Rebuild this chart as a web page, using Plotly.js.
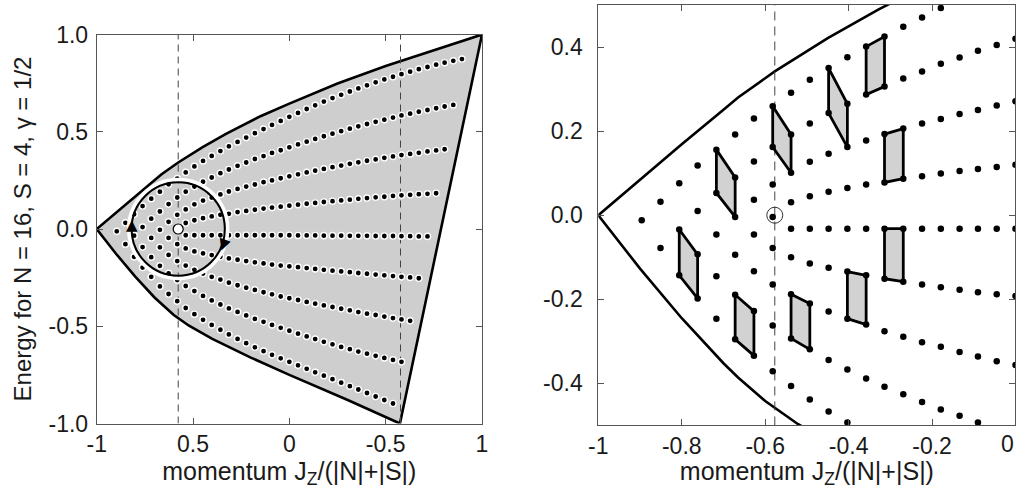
<!DOCTYPE html>
<html><head><meta charset="utf-8">
<script src="https://cdn.plot.ly/plotly-3.0.1.min.js"></script>
<style>html,body{margin:0;padding:0;background:#fff}#chart{width:1016px;height:489px}</style>
</head><body><div id="chart"></div>
<script>
// J_z/(|N|+|S|) of each column of levels (J_z = -20 ... 20)
const momentum = [-0.896,-0.851,-0.806,-0.762,-0.717,-0.672,-0.627,-0.582,-0.538,-0.493,-0.448,-0.403,-0.358,-0.314,-0.269,-0.224,-0.179,-0.134,-0.090,-0.045,0,0.045,0.090,0.134,0.179,0.224,0.269,0.314,0.358,0.403,0.448,0.493,0.538,0.582,0.627,0.672,0.717,0.762,0.806,0.851,0.896];
// energy levels of each column, top to bottom
const energyLevels = [
 [-0.012],
 [0.032,-0.078],
 [0.076,-0.034,-0.143],
 [0.118,0.010,-0.093,-0.198],
 [0.156,0.053,-0.046,-0.145,-0.246],
 [0.192,0.090,-0.004,-0.094,-0.189,-0.295],
 [0.230,0.128,0.037,-0.046,-0.133,-0.228,-0.334],
 [0.259,0.162,0.073,-0.004,-0.078,-0.165,-0.262,-0.371],
 [0.291,0.192,0.101,0.031,-0.032,-0.100,-0.188,-0.293,-0.406],
 [0.322,0.218,0.127,0.045,-0.032,-0.115,-0.210,-0.319,-0.438],
 [0.350,0.243,0.146,0.056,-0.032,-0.125,-0.229,-0.344,-0.467],
 [0.376,0.265,0.162,0.065,-0.032,-0.134,-0.246,-0.367,-0.493],
 [0.401,0.287,0.178,0.073,-0.032,-0.143,-0.260,-0.388,-0.518],
 [0.425,0.306,0.193,0.078,-0.032,-0.151,-0.276,-0.408,-0.542],
 [0.448,0.325,0.206,0.087,-0.032,-0.158,-0.289,-0.426,-0.565],
 [0.470,0.342,0.218,0.093,-0.032,-0.165,-0.302,-0.444,-0.587],
 [0.493,0.360,0.229,0.099,-0.032,-0.171,-0.313,-0.462,-0.608],
 [0.514,0.375,0.241,0.105,-0.032,-0.177,-0.325,-0.477,-0.628],
 [0.535,0.391,0.250,0.110,-0.032,-0.183,-0.336,-0.493,-0.647],
 [0.556,0.405,0.261,0.115,-0.032,-0.188,-0.347,-0.508,-0.665],
 [0.577,0.420,0.271,0.120,-0.032,-0.192,-0.356,-0.523,-0.683],
 [0.597,0.435,0.281,0.125,-0.033,-0.196,-0.365,-0.538,-0.701],
 [0.617,0.449,0.291,0.130,-0.033,-0.201,-0.375,-0.552,-0.719],
 [0.636,0.463,0.300,0.134,-0.033,-0.205,-0.384,-0.566,-0.737],
 [0.655,0.477,0.309,0.139,-0.034,-0.210,-0.393,-0.580,-0.754],
 [0.673,0.490,0.318,0.143,-0.034,-0.214,-0.401,-0.593,-0.772],
 [0.690,0.503,0.326,0.147,-0.034,-0.218,-0.410,-0.606,-0.790],
 [0.707,0.516,0.335,0.151,-0.035,-0.222,-0.418,-0.618,-0.808],
 [0.723,0.528,0.343,0.155,-0.035,-0.226,-0.427,-0.630,-0.825],
 [0.739,0.540,0.351,0.159,-0.035,-0.230,-0.435,-0.641,-0.843],
 [0.754,0.551,0.358,0.163,-0.036,-0.234,-0.442,-0.652,-0.861],
 [0.769,0.562,0.366,0.166,-0.036,-0.238,-0.450,-0.663,-0.879],
 [0.783,0.573,0.373,0.170,-0.036,-0.242,-0.458,-0.673,-0.897],
 [0.796,0.584,0.380,0.173,-0.037,-0.246,-0.465,-0.683],
 [0.809,0.593,0.386,0.176,-0.037,-0.249,-0.472],
 [0.822,0.603,0.392,0.179,-0.038,-0.253],
 [0.833,0.612,0.399,0.181,-0.038],
 [0.845,0.621,0.404,0.184],
 [0.855,0.630,0.410],
 [0.865,0.638],
 [0.874]
];
const columnJz = [-20,-19,-18,-17,-16,-15,-14,-13,-12,-11,-10,-9,-8,-7,-6,-5,-4,-3,-2,-1,0,1,2,3,4,5,6,7,8,9,10,11,12,13,14,15,16,17,18,19,20];
// classical boundary of the energy-momentum map
const upperX = [-1,-0.9,-0.8,-0.7,-0.665,-0.577,-0.45,-0.329,-0.15,0,0.25,0.5,0.75,1];
const upperY = [0,0.085,0.169,0.251,0.280,0.342,0.421,0.489,0.580,0.645,0.748,0.838,0.921,1.0];
const lowerX = [-1,-0.9,-0.8,-0.7,-0.665,-0.6,-0.521,-0.4,-0.2,0,0.3,0.574];
const lowerY = [0,-0.127,-0.245,-0.352,-0.386,-0.442,-0.497,-0.565,-0.661,-0.750,-0.878,-1.0];
// elementary cells carried around the singular value (pairs of columns, level indices)
const cellJz = [[-18,-17],[-16,-15],[-15,-14],[-13,-12],[-12,-11],[-10,-9],[-9,-8],[-8,-7],[-7,-6],[-7,-6]];
const cellLevels = [[1,2,2,3],[0,1,1,2],[4,5,5,6],[0,1,1,2],[6,7,6,7],[0,1,1,2],[5,6,5,6],[0,1,0,1],[2,3,2,3],[4,5,4,5]];
const dashedJz = [-0.577, 0.577];
const singular = {x: -0.577, y: 0.0};
const rightTickVals = [-1,-0.8,-0.6,-0.4,-0.2,0];
const rightTickText = ['-1','-0.8','-0.6','-0.4','-0.2','0'];

const FONT = 'Liberation Sans, Arial, Helvetica, sans-serif';
const traces = [];

const polyX = upperX.concat(lowerX.slice().reverse());
const polyY = upperY.concat(lowerY.slice().reverse());
traces.push({x: polyX, y: polyY, xaxis:'x', yaxis:'y', mode:'lines', fill:'toself', fillcolor:'#cecece',
  line:{color:'#000', width:2.6}, hoverinfo:'skip'});
dashedJz.forEach(d => traces.push({x:[d,d], y:[-1,1], xaxis:'x', yaxis:'y', mode:'lines',
  line:{color:'#444', width:1, dash:'7px,5px'}, hoverinfo:'skip'}));

const dx = [], dy = [];
energyLevels.forEach((col, i) => col.forEach(e => { dx.push(momentum[i]); dy.push(e); }));
traces.push({x: dx, y: dy, xaxis:'x', yaxis:'y', mode:'markers',
  marker:{size:6.2, color:'#000', line:{color:'#fff', width:1.4}}, hoverinfo:'skip'});

traces.push({x:[singular.x], y:[singular.y], xaxis:'x', yaxis:'y', mode:'markers',
  marker:{size:10, color:'#fff', line:{color:'#000', width:1.2}}, hoverinfo:'skip'});

traces.push({x: upperX, y: upperY, xaxis:'x2', yaxis:'y2', mode:'lines', line:{color:'#000', width:2.6}, hoverinfo:'skip'});
traces.push({x: lowerX, y: lowerY, xaxis:'x2', yaxis:'y2', mode:'lines', line:{color:'#000', width:2.6}, hoverinfo:'skip'});
traces.push({x:[dashedJz[0],dashedJz[0]], y:[-0.5,0.5], xaxis:'x2', yaxis:'y2', mode:'lines',
  line:{color:'#444', width:1, dash:'9px,6px'}, hoverinfo:'skip'});
cellJz.forEach((pair, k) => {
  const i1 = columnJz.indexOf(pair[0]), i2 = columnJz.indexOf(pair[1]);
  const L = cellLevels[k];
  traces.push({
    x:[momentum[i1], momentum[i2], momentum[i2], momentum[i1], momentum[i1]],
    y:[energyLevels[i1][L[0]], energyLevels[i2][L[2]], energyLevels[i2][L[3]], energyLevels[i1][L[1]], energyLevels[i1][L[0]]],
    xaxis:'x2', yaxis:'y2', mode:'lines', fill:'toself', fillcolor:'#d2d2d2',
    line:{color:'#000', width:2.8}, hoverinfo:'skip'});
});
traces.push({x: dx, y: dy, xaxis:'x2', yaxis:'y2', mode:'markers',
  marker:{size:6.5, color:'#000'}, hoverinfo:'skip', cliponaxis:true});
traces.push({x:[singular.x], y:[singular.y], xaxis:'x2', yaxis:'y2', mode:'markers',
  marker:{symbol:'circle-open', size:16, color:'#333', line:{width:1}}, hoverinfo:'skip'});

const axisBase = {showline:true, linecolor:'#555', linewidth:1, mirror:'ticks', ticks:'inside',
  ticklen:6, tickcolor:'#555', showgrid:false, zeroline:false, tickfont:{size:23, color:'#1a1a1a'}};

const layout = {
  width:1016, height:489, margin:{l:0, r:0, t:0, b:0}, showlegend:false,
  paper_bgcolor:'#fff', plot_bgcolor:'#fff',
  font:{family:FONT, color:'#1a1a1a'},
  xaxis: Object.assign({}, axisBase, {domain:[0.0952,0.4744], range:[-1,1], anchor:'y',
    tickvals:[-1,-0.5,0,0.5,1], ticktext:['-1','0.5','0','-0.5','1'],
    title:{text:'momentum J<sub>Z</sub>/(|N|+|S|)', font:{size:25, color:'#1a1a1a'}, standoff:4}}),
  yaxis: Object.assign({}, axisBase, {domain:[0.1339,0.9294], range:[-1,1], anchor:'x',
    tickvals:[-1,-0.5,0,0.5,1], ticktext:['-1.0','-0.5','0.0','0.5','1.0'], ticklabelstandoff:3,
    title:{text:'Energy for N = 16, S = 4, γ = 1/2', font:{size:24, color:'#1a1a1a'}, standoff:10}}),
  xaxis2: Object.assign({}, axisBase, {domain:[0.5889,0.9995], range:[-1,0], anchor:'y2',
    tickvals:rightTickVals, ticktext:rightTickText.slice(0, -1).concat(['']),
    title:{text:'momentum J<sub>Z</sub>/(|N|+|S|)', font:{size:25, color:'#1a1a1a'}, standoff:4}}),
  yaxis2: Object.assign({}, axisBase, {domain:[0.1299,0.9898], range:[-0.5,0.5], anchor:'x2',
    tickvals:[-0.4,-0.2,0,0.2,0.4], ticktext:['-0.4','-0.2','0.0','0.2','0.4'], ticklabelstandoff:10}),
  shapes: [
    {type:'circle', xref:'x', yref:'y', x0:singular.x-0.257, x1:singular.x+0.257, y0:-0.2545, y1:0.2545,
      line:{color:'#fff', width:3.5}, layer:'above'},
    {type:'circle', xref:'x', yref:'y', x0:singular.x-0.242, x1:singular.x+0.242, y0:-0.240, y1:0.240,
      line:{color:'#000', width:2}, layer:'above'}
  ],
  annotations: [
    {xref:'x', yref:'y', x:-0.818, y:0.02, text:'▲', showarrow:false, font:{size:15, color:'#000', family:'DejaVu Sans'}},
    {xref:'x', yref:'y', x:-0.340, y:-0.075, text:'▼', showarrow:false, textangle:20, font:{size:15, color:'#000', family:'DejaVu Sans'}},
    {xref:'x2', yref:'paper', x:rightTickVals[5], y:0.129, yanchor:'top', xanchor:'right', xshift:1, yshift:-3,
      text:rightTickText[5], showarrow:false, font:{size:23, color:'#1a1a1a'}}
  ]
};
Plotly.newPlot('chart', traces, layout, {staticPlot:true, displayModeBar:false});
</script></body></html>
